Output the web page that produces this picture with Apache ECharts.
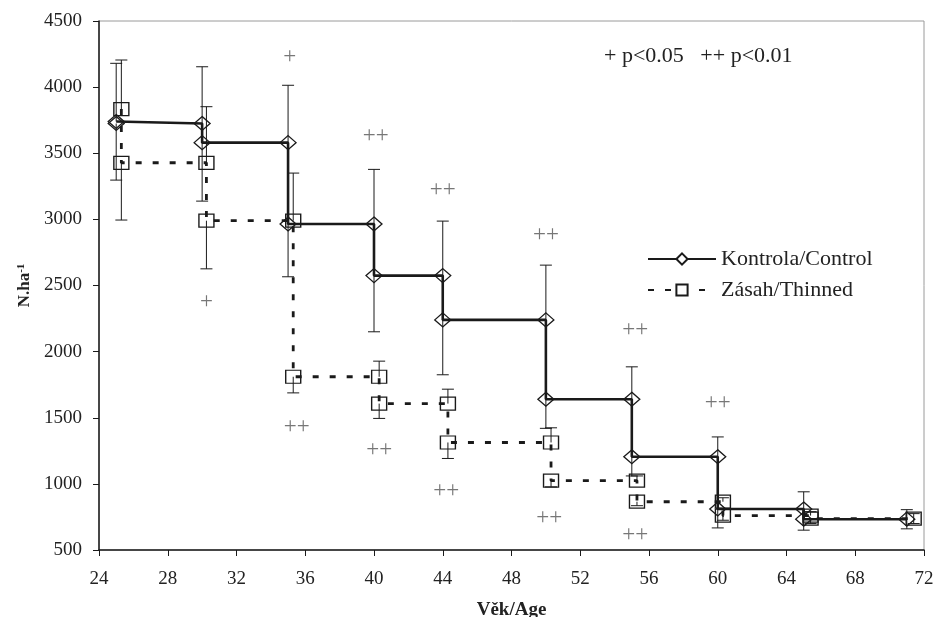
<!DOCTYPE html>
<html>
<head>
<meta charset="utf-8">
<script src="https://cdn.jsdelivr.net/npm/echarts@6/dist/echarts.min.js"></script>
<style>
html,body{margin:0;padding:0;background:#fff;}
#chart{width:935px;height:617px;}
</style>
</head>
<body>
<div id="chart"></div>
<script>
// ---- data ----
// Control (Kontrola) step line vertices
const ctrlX = [25, 25, 30, 30, 35, 35, 40, 40, 44, 44, 50, 50, 55, 55, 60, 60, 65, 65, 71];
const ctrlY = [3740, 3725, 3725, 3580, 3580, 2965, 2965, 2575, 2575, 2240, 2240, 1640, 1640, 1205, 1205, 810, 810, 733, 733];
// Thinned (Zásah) step line vertices
const thinX = [25.3, 25.3, 30.25, 30.25, 35.3, 35.3, 40.3, 40.3, 44.3, 44.3, 50.3, 50.3, 55.3, 55.3, 60.3, 60.3, 65.4, 65.4, 71.4];
const thinY = [3834, 3428, 3428, 2990, 2990, 1810, 1810, 1607, 1607, 1313, 1313, 1025, 1025, 865, 865, 760, 760, 737, 737];
// error bar ends
const ctrlErrX = [25, 30, 35, 40, 44, 50, 55, 60, 65, 71];
const ctrlErrHigh = [4180, 4154, 4014, 3378, 2987, 2654, 1885, 1355, 940, 805];
const ctrlErrLow = [3297, 3138, 2566, 2150, 1825, 1420, 1060, 667, 650, 660];
const thinErrX = [25.3, 30.25, 35.3, 40.3, 44.3, 50.3, 55.3, 60.3, 65.4, 71.4];
const thinErrHigh = [4205, 3852, 3350, 1928, 1716, 1424, 1060, 895, 790, 775];
const thinErrLow = [2995, 2626, 1688, 1495, 1192, 977, 835, 725, 700, 700];
// significance markers
const sigX = [35.1, 30.25, 40.1, 44.0, 50.0, 55.2, 60.0, 35.5, 40.3, 44.2, 50.2, 55.2];
const sigY = [4240, 2390, 3643, 3234, 2894, 2180, 1628, 1444, 1275, 965, 756, 629];
const sigLabel = ['+', '+', '++', '++', '++', '++', '++', '++', '++', '++', '++', '++'];
// axis ticks
const xTicks = {min: 24, max: 72, interval: 4};
const yTicks = {min: 500, max: 4500, interval: 500};

const SERIF = '"Liberation Serif","Times New Roman",serif';
const INK = '#1a1a1a';

function errData(xs, highs, lows, sx, sy) {
  return xs.map((x, i) => {
    const ys = [];
    sx.forEach((v, j) => { if (Math.abs(v - x) < 1e-6) ys.push(sy[j]); });
    const upper = Math.max.apply(null, ys);
    const lower = Math.min.apply(null, ys);
    return [x, upper, highs[i], lower, lows[i]];
  });
}

function renderErr(params, api) {
  const x = api.value(0);
  const up = api.value(1), hi = api.value(2), lo = api.value(3), low = api.value(4);
  const children = [];
  const cap = 6;
  const style = {stroke: INK, lineWidth: 1};
  if (hi > up) {
    const a = api.coord([x, up]), b = api.coord([x, hi]);
    children.push({type: 'line', shape: {x1: a[0], y1: a[1], x2: b[0], y2: b[1]}, style: style});
    children.push({type: 'line', shape: {x1: b[0] - cap, y1: b[1], x2: b[0] + cap, y2: b[1]}, style: style});
  }
  if (low < lo) {
    const a = api.coord([x, lo]), b = api.coord([x, low]);
    children.push({type: 'line', shape: {x1: a[0], y1: a[1], x2: b[0], y2: b[1]}, style: style});
    children.push({type: 'line', shape: {x1: b[0] - cap, y1: b[1], x2: b[0] + cap, y2: b[1]}, style: style});
  }
  return {type: 'group', children: children};
}

const chart = echarts.init(document.getElementById('chart'), null, {renderer: 'canvas'});
chart.setOption({
  animation: false,
  backgroundColor: '#fff',
  title: {
    text: '+ p<0.05   ++ p<0.01',
    left: 604, top: 45,
    padding: 0,
    textStyle: {fontFamily: SERIF, fontSize: 22, fontWeight: 'normal', color: '#222'}
  },
  legend: {
    orient: 'vertical',
    left: 647, top: 248,
    itemWidth: 68, itemHeight: 14, itemGap: 9,
    padding: 0,
    textStyle: {fontFamily: SERIF, fontSize: 22, color: '#222'},
    data: [
      {name: 'Kontrola/Control', itemStyle: {color: '#fff'}},
      {name: 'Zásah/Thinned', itemStyle: {color: '#fff'}}
    ]
  },
  grid: {left: 99, right: 11, top: 21, bottom: 67, containLabel: false, outerBoundsMode: 'none',
         show: true, borderColor: '#9a9a9a', borderWidth: 1},
  xAxis: {
    type: 'value', min: xTicks.min, max: xTicks.max, interval: xTicks.interval,
    name: 'Věk/Age', nameLocation: 'middle', nameGap: 51,
    nameTextStyle: {fontFamily: SERIF, fontSize: 19, fontWeight: 'bold', color: '#222'},
    axisLine: {lineStyle: {color: INK, width: 1.5}},
    axisTick: {inside: false, length: 6, lineStyle: {color: INK}},
    axisLabel: {fontFamily: SERIF, fontSize: 19, color: '#222', margin: 20, formatter: v => String(v)},
    splitLine: {show: false}
  },
  yAxis: {
    type: 'value', min: yTicks.min, max: yTicks.max, interval: yTicks.interval,
    name: '{a|N.ha}{b|-1}', nameLocation: 'middle', nameGap: 66,
    nameTextStyle: {
      rich: {
        a: {fontFamily: SERIF, fontSize: 17, fontWeight: 'bold', color: '#222'},
        b: {fontFamily: SERIF, fontSize: 11, fontWeight: 'bold', color: '#222', verticalAlign: 'top'}
      }
    },
    axisLine: {lineStyle: {color: INK, width: 1.5}},
    axisTick: {inside: false, length: 6, lineStyle: {color: INK}},
    axisLabel: {fontFamily: SERIF, fontSize: 19, color: '#222', margin: 17, formatter: v => String(v)},
    splitLine: {show: false}
  },
  series: [
    {
      name: 'ctrlErr', type: 'custom', renderItem: renderErr, z: 2,
      data: errData(ctrlErrX, ctrlErrHigh, ctrlErrLow, ctrlX, ctrlY),
      encode: {x: 0, y: [1, 2, 3, 4]}, silent: true
    },
    {
      name: 'thinErr', type: 'custom', renderItem: renderErr, z: 2,
      data: errData(thinErrX, thinErrHigh, thinErrLow, thinX, thinY),
      encode: {x: 0, y: [1, 2, 3, 4]}, silent: true
    },
    {
      name: 'Zásah/Thinned', type: 'line', z: 3,
      data: thinX.map((x, i) => [x, thinY[i]]),
      symbol: 'rect', symbolSize: [15, 13], showAllSymbol: true,
      lineStyle: {color: INK, width: 2.8, type: [6, 11]},
      itemStyle: {color: 'rgba(255,255,255,0)', borderColor: INK, borderWidth: 1.3}
    },
    {
      name: 'Kontrola/Control', type: 'line', z: 4,
      data: ctrlX.map((x, i) => [x, ctrlY[i]]),
      symbol: 'diamond', symbolSize: [16, 14], showAllSymbol: true,
      lineStyle: {color: INK, width: 2.6},
      itemStyle: {color: 'rgba(255,255,255,0)', borderColor: INK, borderWidth: 1.3}
    },
    {
      name: 'sig', type: 'scatter', z: 5, silent: true,
      data: sigX.map((x, i) => ({value: [x, sigY[i]], label: {formatter: sigLabel[i]}})),
      symbolSize: 1, itemStyle: {color: 'rgba(0,0,0,0)'},
      label: {show: true, position: 'inside', offset: [0, 2], fontFamily: SERIF, fontSize: 23, color: '#555'}
    }
  ]
});
</script>
</body>
</html>
